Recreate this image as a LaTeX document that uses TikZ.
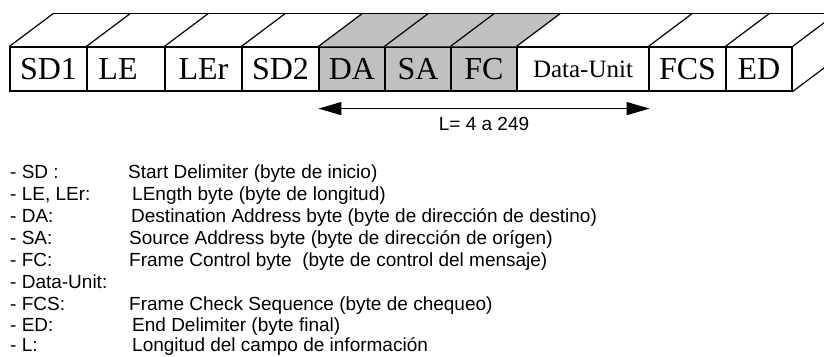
\documentclass[tikz,border=0pt]{standalone}
\usepackage{fontspec}
\setmainfont{Liberation Serif}
\newfontfamily\arialf{Liberation Sans}
\usetikzlibrary{arrows.meta,calc}
\definecolor{boxgray}{RGB}{192,192,192}
\begin{document}
\begin{tikzpicture}[x=1pt,y=-1pt,
  cell/.style={draw, line width=1.2pt, inner sep=0pt, minimum height=44pt, font=\fontsize{32}{32}\selectfont},
  gcell/.style={cell, fill=boxgray},
  edge3d/.style={line width=1.2pt},
  keytxt/.style={anchor=base west, inner sep=0pt, font=\arialf\fontsize{19}{22}\selectfont},
  lenarrow/.style={line width=1pt, {Triangle[length=23pt,width=13pt]}-{Triangle[length=23pt,width=13pt]}}
]
\useasboundingbox (0,0) rectangle (824,356);
\clip (0,0) rectangle (824,356);
% front cells
\node[cell, minimum width=77pt] (sd1) at (48.5,69) {SD1};
\node[cell, minimum width=78pt] (le) at (126,69) {LE\hspace*{16pt}};
\node[cell, minimum width=77pt] (ler) at (203.5,69) {LEr};
\node[cell, minimum width=77pt] (sd2) at (280.5,69) {SD2};
\node[gcell, minimum width=66pt] (da) at (352,69) {DA};
\node[gcell, minimum width=66pt] (sa) at (418,69) {SA};
\node[gcell, minimum width=66pt] (fc) at (484,69) {FC};
\node[cell, minimum width=132pt, font=\fontsize{25}{25}\selectfont] (du) at (583,69) {Data-Unit};
\node[cell, minimum width=77pt] (fcs) at (687.5,69) {FCS};
\node[cell, minimum width=66pt] (ed) at (759,69) {ED};
% shaded top
\fill[boxgray] (da.north west) -- ++(44,-33) -- ($(fc.north east)+(44,-33)$) -- (fc.north east) -- cycle;
% top and side edges
\draw[edge3d] ($(sd1.north west)+(44,-33)$) -- ($(ed.north east)+(44,-33)$);
\foreach \n in {sd1,le,ler,sd2,da,sa,fc,du,fcs,ed}
  \draw[edge3d] (\n.north west) -- ++(44,-33);
\draw[edge3d] (ed.north east) -- ++(44,-33);
\draw[edge3d] (ed.south east) -- ++(44,-33);
% length arrow
\coordinate (al) at ($(da.south west)+(0,17)$);
\coordinate (ar) at ($(du.south east)+(0,17)$);
\draw[lenarrow] (al) -- (ar);
\node[keytxt, anchor=base] (len) at (484,130.5) {L= 4 a 249};
% legend
\node[keytxt] (k1) at (10,178) {- SD :};
\node[keytxt] (v1) at (128,178) {Start Delimiter (byte de inicio)};
\node[keytxt] (k2) at (10,200) {- LE, LEr:};
\node[keytxt] (v2) at (132,200) {LEngth byte (byte de longitud)};
\node[keytxt] (k3) at (10,222) {- DA:};
\node[keytxt] (v3) at (131,222) {Destination Address byte (byte de dirección de destino)};
\node[keytxt] (k4) at (10,244) {- SA:};
\node[keytxt] (v4) at (129,244) {Source Address byte (byte de dirección de orígen)};
\node[keytxt] (k5) at (10,266) {- FC:};
\node[keytxt] (v5) at (129,266) {Frame Control byte \ (byte de control del mensaje)};
\node[keytxt] (k6) at (10,288) {- Data-Unit:};
\node[keytxt] (k7) at (10,310) {- FCS:};
\node[keytxt] (v7) at (129,310) {Frame Check Sequence (byte de chequeo)};
\node[keytxt] (k8) at (10,331.5) {- ED:};
\node[keytxt] (v8) at (132,331.5) {End Delimiter (byte final)};
\node[keytxt] (k9) at (10,351.5) {- L:};
\node[keytxt] (v9) at (132,351.5) {Longitud del campo de información};
\end{tikzpicture}
\end{document}
